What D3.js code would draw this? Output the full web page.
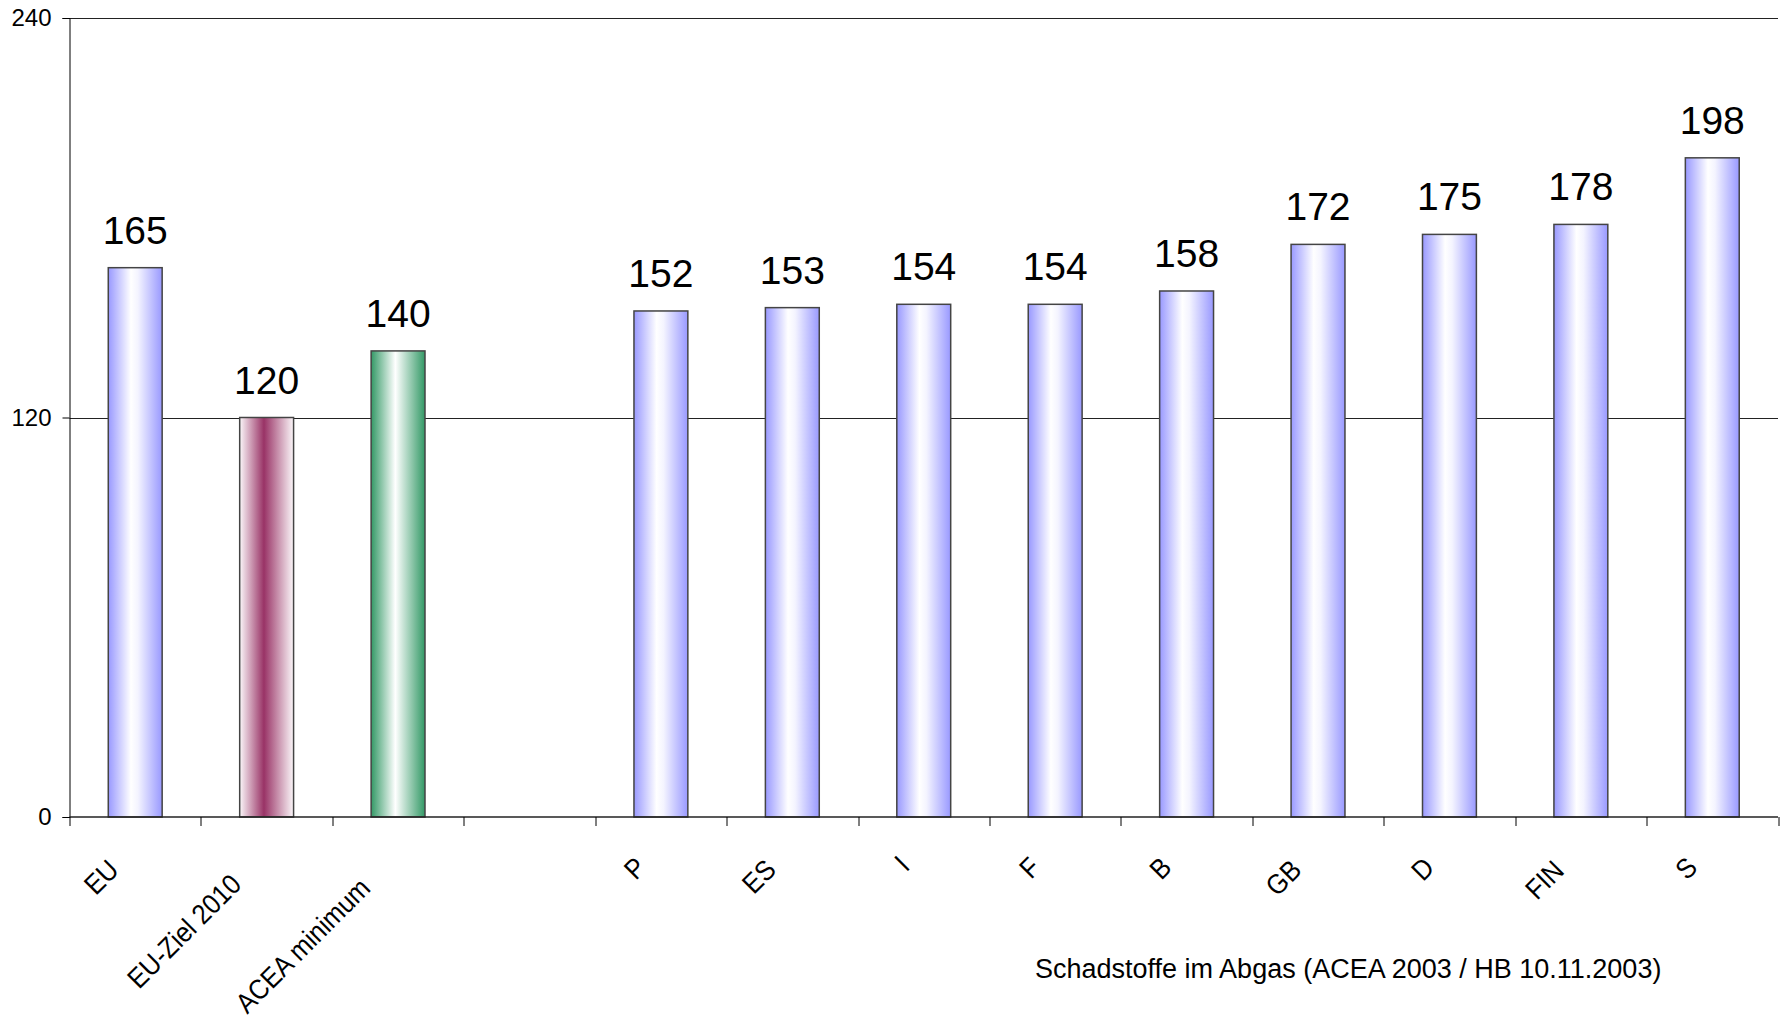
<!DOCTYPE html>
<html>
<head>
<meta charset="utf-8">
<script src="https://cdn.jsdelivr.net/npm/d3@7"></script>
<style>
  body { margin: 0; background: #fff; }
  text { font-family: "Liberation Sans", Arial, sans-serif; fill: #000; }
</style>
</head>
<body>
<script>
// category slots (one empty slot between the reference bars and the countries)
var categories = ["EU", "EU-Ziel 2010", "ACEA minimum", "", "P", "ES", "I", "F", "B", "GB", "D", "FIN", "S"];
var values = [165, 120, 140, null, 152, 153, 154, 154, 158, 172, 175, 178, 198];
var yTicks = [0, 120, 240];
var note = "Schadstoffe im Abgas (ACEA 2003 / HB 10.11.2003)";

var W = 1787, H = 1021;
var margin = {top: 18, right: 9, bottom: 204, left: 69.5}
  , width = W - margin.left - margin.right
  , height = H - margin.top - margin.bottom;

var data = categories.map(function(c, i) { return {cat: c, value: values[i]}; });

var x = d3.scaleBand()
          .domain(categories)
          .range([0, width])
          .paddingInner(0.59)
          .paddingOuter(0.295);

var y = d3.scaleLinear()
          .domain([0, 240])
          .range([height, 0]);

var svg = d3.select('body')
  .append('svg')
  .attr('width', W)
  .attr('height', H);

// gradients (Excel style, horizontal from center)
var defs = svg.append('defs');
function grad(id, stops) {
  var g = defs.append('linearGradient').attr('id', id)
    .attr('x1', '0%').attr('x2', '100%').attr('y1', '0%').attr('y2', '0%');
  stops.forEach(function(s) {
    g.append('stop').attr('offset', s[0]).attr('stop-color', s[1]);
  });
}
grad('gBlue', [['0%', '#9999ff'], ['42%', '#ffffff'], ['55%', '#f4f4ff'], ['100%', '#9999ff']]);
grad('gRed', [['0%', '#fbf7f9'], ['45%', '#993366'], ['100%', '#fbf7f9']]);
grad('gGreen', [['0%', '#339966'], ['45%', '#ffffff'], ['100%', '#339966']]);

function fillFor(d) {
  if (d.cat === "EU-Ziel 2010") return 'url(#gRed)';
  if (d.cat === "ACEA minimum") return 'url(#gGreen)';
  return 'url(#gBlue)';
}

var main = svg.append('g')
  .attr('transform', 'translate(' + margin.left + ',' + margin.top + ')');

// horizontal gridlines at 120 and 240
main.selectAll('line.grid')
  .data(yTicks.filter(function(t) { return t > 0; }))
  .enter().append('line')
    .attr('class', 'grid')
    .attr('x1', 0).attr('x2', width)
    .attr('y1', function(d) { return Math.round(y(d)) + 0.5; })
    .attr('y2', function(d) { return Math.round(y(d)) + 0.5; })
    .attr('stroke', '#222')
    .attr('stroke-width', 1);

// y axis
var yAxis = d3.axisLeft(y)
  .tickValues(yTicks)
  .tickSize(7)
  .tickPadding(11);

var ya = main.append('g')
  .attr('class', 'axis')
  .call(yAxis);
ya.selectAll('text').style('font-size', '24px');
ya.selectAll('line, path').attr('stroke', '#000');

// bars
var bars = data.filter(function(d) { return d.value != null; });

main.selectAll('rect.bar')
  .data(bars)
  .enter().append('rect')
    .attr('class', 'bar')
    .attr('x', function(d) { return x(d.cat); })
    .attr('y', function(d) { return y(d.value); })
    .attr('width', x.bandwidth())
    .attr('height', function(d) { return height - y(d.value); })
    .attr('fill', fillFor)
    .attr('stroke', '#444')
    .attr('stroke-width', 1.5);

// value labels
main.selectAll('text.val')
  .data(bars)
  .enter().append('text')
    .attr('class', 'val')
    .attr('x', function(d) { return x(d.cat) + x.bandwidth() / 2; })
    .attr('y', function(d) { return y(d.value) - 24; })
    .attr('text-anchor', 'middle')
    .style('font-size', '39px')
    .text(function(d) { return d.value; });

// x axis: baseline with ticks at slot boundaries
main.append('line')
  .attr('x1', 0).attr('x2', width)
  .attr('y1', height).attr('y2', height)
  .attr('stroke', '#222').attr('stroke-width', 1.5);

var bounds = d3.range(categories.length + 1).map(function(i) { return i * x.step(); });
main.selectAll('line.xt')
  .data(bounds)
  .enter().append('line')
    .attr('class', 'xt')
    .attr('x1', function(d) { return Math.round(d) + 0.5; })
    .attr('x2', function(d) { return Math.round(d) + 0.5; })
    .attr('y1', height).attr('y2', height + 9)
    .attr('stroke', '#000');

// rotated category labels (slightly condensed like the original)
var squeeze = 0.9;
main.selectAll('text.cat')
  .data(data.filter(function(d) { return d.cat !== ""; }))
  .enter().append('text')
    .attr('class', 'cat')
    .attr('text-anchor', 'end')
    .style('font-size', '28px')
    .text(function(d) { return d.cat; })
    .attr('transform', function(d) {
      var L = this.getComputedTextLength() * squeeze;
      var cx = x(d.cat) + x.bandwidth() / 2;
      var ex = cx - 12 - 0.08 * L;
      var ey = height + 50 + 0.13 * L;
      return 'translate(' + ex + ',' + ey + ') rotate(-45) scale(' + squeeze + ',1)';
    });

// source note
svg.append('text')
  .attr('x', 1035)
  .attr('y', 978)
  .style('font-size', '27px')
  .text(note);
</script>
</body>
</html>
